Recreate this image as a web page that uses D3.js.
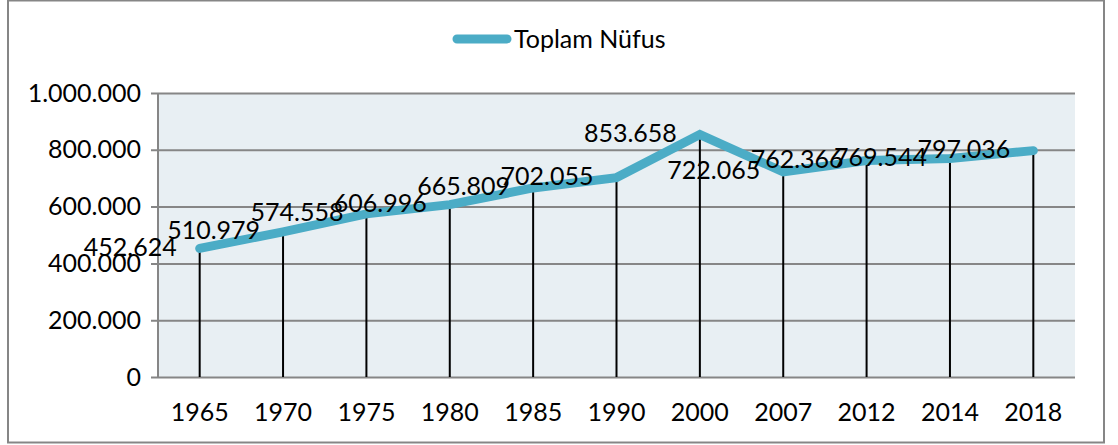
<!DOCTYPE html>
<html>
<head>
<meta charset="utf-8">
<script src="https://cdn.jsdelivr.net/npm/d3@7"></script>
<style>
  body { margin: 0; background: #fff; }
  svg text { font-family: Lato, "Open Sans", sans-serif; fill: #000; }
</style>
</head>
<body>
<svg id="chart" width="1118" height="445"></svg>
<script>
// population by census year
var years = ["1965", "1970", "1975", "1980", "1985", "1990", "2000", "2007", "2012", "2014", "2018"];
var nufus = [452624, 510979, 574558, 606996, 665809, 702055, 853658, 722065, 762366, 769544, 797036];
var yTicks = [0, 200000, 400000, 600000, 800000, 1000000];
var seriesName = "Toplam Nüfus";

var fs = 25;
var lineColor = "#4BACC6";
var gridColor = "#868686";

var svg = d3.select("#chart");
var margin = {top: 93, left: 158, right: 43, bottom: 68},
    width = 1118 - margin.left - margin.right,
    height = 445 - margin.top - margin.bottom;

// thousands sep with dots
var fmt = function (v) { return d3.format(",")(v).replace(/,/g, "."); };

// outer border
svg.append("rect")
    .attr("x", 8).attr("y", 0.5)
    .attr("width", 1096).attr("height", 442)
    .attr("fill", "#fff")
    .attr("stroke", gridColor)
    .attr("stroke-width", 2);

var x = d3.scaleBand().domain(years).range([0, width]);
var y = d3.scaleLinear().domain([0, 1000000]).range([height, 0]);

var g = svg.append("g")
    .attr("transform", "translate(" + margin.left + "," + margin.top + ")");

g.append("rect")
    .attr("width", width).attr("height", height)
    .attr("fill", "#E8EFF3");

// y axis + grid
var yAxis = d3.axisLeft(y)
    .tickValues(yTicks)
    .tickSize(-width)
    .tickPadding(17)
    .tickFormat(fmt);

var ya = g.append("g").call(yAxis);
ya.select(".domain").remove();
ya.selectAll("line")
    .attr("x1", -7)
    .attr("stroke", gridColor)
    .attr("stroke-width", 2);
ya.selectAll("text")
    .attr("font-size", fs)
    .attr("font-family", null);

// y axis line
g.append("line")
    .attr("x1", 0).attr("x2", 0)
    .attr("y1", 0).attr("y2", height)
    .attr("stroke", gridColor).attr("stroke-width", 2);

// x axis labels
var xAxis = d3.axisBottom(x).tickSize(0).tickPadding(26);
var xa = g.append("g")
    .attr("transform", "translate(0," + height + ")")
    .call(xAxis);
xa.select(".domain").remove();
xa.selectAll("text")
    .attr("font-size", fs)
    .attr("font-family", null);

var cx = function (d, i) { return x(years[i]) + x.bandwidth() / 2; };

// drop lines
g.selectAll(".drop")
    .data(nufus)
    .enter().append("line")
    .attr("class", "drop")
    .attr("x1", cx).attr("x2", cx)
    .attr("y1", function (d) { return y(d); })
    .attr("y2", height)
    .attr("stroke", "#000")
    .attr("stroke-width", 2);

var line = d3.line()
    .x(cx)
    .y(function (d) { return y(d); });

g.append("path")
    .datum(nufus)
    .attr("d", line)
    .attr("fill", "none")
    .attr("stroke", lineColor)
    .attr("stroke-width", 9)
    .attr("stroke-linecap", "round")
    .attr("stroke-linejoin", "miter");

// data labels sit left of each point
g.selectAll(".lbl")
    .data(nufus)
    .enter().append("text")
    .attr("class", "lbl")
    .attr("x", function (d, i) { return cx(d, i) - 23; })
    .attr("y", function (d) { return y(d); })
    .attr("dy", "0.3em")
    .attr("text-anchor", "end")
    .attr("font-size", fs)
    .text(fmt);

// legend
var leg = svg.append("g").attr("transform", "translate(0,39)");
leg.append("line")
    .attr("x1", 457).attr("x2", 507)
    .attr("stroke", lineColor)
    .attr("stroke-width", 9)
    .attr("stroke-linecap", "round");
leg.append("text")
    .attr("x", 514)
    .attr("dy", "0.35em")
    .attr("font-size", fs)
    .text(seriesName);
</script>
</body>
</html>
